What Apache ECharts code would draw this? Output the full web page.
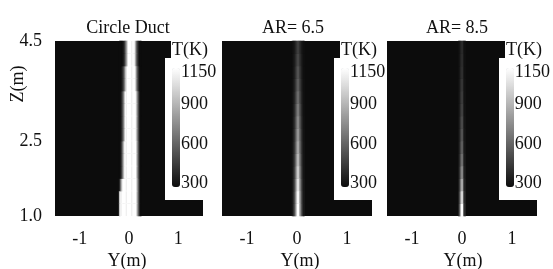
<!DOCTYPE html>
<html><head><meta charset="utf-8">
<script src="https://cdn.jsdelivr.net/npm/echarts@6/dist/echarts.min.js"></script>
<style>html,body{margin:0;padding:0;background:#fff}#c{width:553px;height:269px}</style>
</head><body><div id="c"></div>
<script>
// ---------- data ----------
const panelTitles = ['Circle Duct', 'AR= 6.5', 'AR= 8.5'];
const yTicks = [-1, 0, 1];          // Y(m) tick labels
const zTicks = [1.0, 2.5, 4.5];     // Z(m) tick labels
const tTicks = [300, 600, 900, 1150]; // colour-bar labels, T(K)
const tMin = 300, tMax = 1150;      // background temperature / colour-bar max
const yRange = [-1.5, 1.5];         // Y(m) extent of each panel
const zRange = [1.0, 4.5];          // Z(m) extent of each panel
const cellY = 0.025;                // width of a heat-map cell in Y(m)
const cellZ = 0.25;                 // height of a heat-map cell in Z(m)

// Y(m) cell centres of the hot columns in each panel
const circleY = [-0.1875,-0.1625,-0.1375,-0.1125,-0.0875,-0.0625,-0.0375,-0.0125,0.0125,0.0375,0.0625,0.0875,0.1125,0.1375,0.1625,0.1875,0.2125,0.2375];
const ar65Y  = [-0.0875,-0.0625,-0.0375,-0.0125,0.0125,0.0375,0.0625,0.0875,0.1125,0.1375];
const ar85Y  = [-0.0625,-0.0375,-0.0125,0.0125,0.0375,0.0625];

// T(K) of those columns, one row per Z cell, bottom (Z=1.0) first
const circleT = [
 [950,1150,1150,1150,1150,1150,1150,1150,1150,1150,1150,1150,1150,1150,1050,700,420,300],
 [950,1150,1150,1150,1150,1150,1150,1150,1150,1150,1150,1150,1150,1150,1050,700,420,300],
 [400,700,1050,1150,1150,1150,1150,1150,1150,1150,1150,1150,1150,1150,1050,700,420,300],
 [300,350,550,850,1100,1150,1150,1150,1150,1150,1150,1150,1150,1150,1000,650,400,300],
 [300,350,550,850,1100,1150,1150,1150,1150,1150,1150,1150,1150,1150,1000,650,400,300],
 [300,350,550,850,1100,1150,1150,1150,1150,1150,1150,1150,1150,1150,1000,650,400,300],
 [300,320,450,650,950,1150,1150,1150,1150,1150,1150,1150,1150,1120,950,620,380,300],
 [300,320,450,650,950,1150,1150,1150,1150,1150,1150,1150,1150,1120,950,620,380,300],
 [300,320,450,650,950,1150,1150,1150,1150,1150,1150,1150,1150,1120,950,620,380,300],
 [300,320,450,650,950,1150,1150,1150,1150,1150,1150,1150,1150,1120,950,620,380,300],
 [300,300,360,480,700,950,1150,1150,1150,1150,1150,1150,1150,1000,750,480,330,300],
 [300,300,360,480,700,950,1150,1150,1150,1150,1150,1150,1150,1000,750,480,330,300],
 [300,300,300,330,450,650,900,1150,1150,1150,1150,1150,1100,850,600,400,300,300],
 [300,300,300,330,450,650,900,1150,1150,1150,1150,1150,1100,850,600,400,300,300]
];
const ar65T = [
 [343,428,598,895,1150,1150,895,598,428,343],
 [341,423,587,874,1120,1120,874,587,423,341],
 [337,411,559,818,1040,1040,818,559,411,337],
 [333,399,531,762,960,960,762,531,399,333],
 [330,389,507,713,890,890,713,507,389,330],
 [327,380,486,671,830,830,671,486,380,327],
 [324,372,468,636,780,780,636,468,372,324],
 [322,365,451,601,730,730,601,451,365,322],
 [319,357,433,566,680,680,566,433,357,319],
 [317,350,416,531,630,630,531,416,350,317],
 [314,342,398,496,580,580,496,398,342,314],
 [312,336,384,468,540,540,468,384,336,312],
 [310,330,370,440,500,500,440,370,330,310],
 [309,326,360,419,470,470,419,360,326,309]
];
const ar85T = [
 [385,640,1150,1150,640,385],
 [370,580,1000,1000,580,370],
 [354,516,840,840,516,354],
 [342,468,720,720,468,342],
 [334,436,640,640,436,334],
 [328,412,580,580,412,328],
 [324,396,540,540,396,324],
 [321,384,510,510,384,321],
 [318,372,480,480,372,318],
 [316,364,460,460,364,316],
 [314,356,440,440,356,314],
 [312,348,420,420,348,312],
 [311,344,410,410,344,311],
 [310,340,400,400,340,310]
];

// ---------- layout (pixels) ----------
const layout = [
  {left: 55,  width: 148, titleX: 128, nameX: 127},
  {left: 222, width: 150, titleX: 293, nameX: 300},
  {left: 387, width: 150, titleX: 457, nameX: 463}
];
const plotTop = 41, plotH = 175;
const FONT = 'Liberation Serif';
const FS = 18;
const TXT = '#111';
const bgColor = '#0c0c0c';

const panels = [
  {y: circleY, t: circleT},
  {y: ar65Y, t: ar65T},
  {y: ar85Y, t: ar85T}
];

const nCols = Math.round((yRange[1] - yRange[0]) / cellY);
const nRows = Math.round((zRange[1] - zRange[0]) / cellZ);
const colCats = Array.from({length: nCols}, (_, i) => i);
const rowCats = Array.from({length: nRows}, (_, i) => i);

const grid = [], xAxis = [], yAxis = [], series = [], visualMap = [], graphic = [];
const txt = (text, x, y, align, extra) => Object.assign({type: 'text', z: 7, x, y,
  style: {text, font: FS + 'px ' + FONT, fill: TXT, textAlign: align || 'center', textVerticalAlign: 'middle'}}, extra || {});

panels.forEach((p, i) => {
  const L = layout[i];
  const right = L.left + L.width;
  const gi = grid.length;
  grid.push({left: L.left, top: plotTop, width: L.width, height: plotH, show: true,
    backgroundColor: bgColor, borderWidth: 0, containLabel: false});
  const xc = xAxis.length;
  xAxis.push({type: 'category', gridIndex: gi, position: 'top', data: colCats, show: false});
  xAxis.push({type: 'value', gridIndex: gi, position: 'bottom', min: yRange[0], max: yRange[1], interval: 0.5,
    axisLine: {show: false}, axisTick: {show: false}, splitLine: {show: false},
    axisLabel: {margin: 14, fontFamily: FONT, fontSize: FS, color: TXT,
      formatter: v => yTicks.includes(v) ? String(v) : ''}});
  const yc = yAxis.length;
  yAxis.push({type: 'category', gridIndex: gi, position: 'right', data: rowCats, show: false});
  if (i === 0) {
    yAxis.push({type: 'value', gridIndex: gi, position: 'left', min: zRange[0], max: zRange[1], interval: 0.5,
      axisLine: {show: false}, axisTick: {show: false}, splitLine: {show: false},
      axisLabel: {margin: 13, fontFamily: FONT, fontSize: FS, color: TXT,
        formatter: v => zTicks.includes(v) ? v.toFixed(1) : ''}});
  }
  const data = [];
  p.t.forEach((row, r) => {
    row.forEach((T, j) => {
      const k = Math.round((p.y[j] - yRange[0]) / cellY - 0.5);
      data.push([k, r, T]);
    });
  });
  const si = series.length;
  series.push({type: 'heatmap', xAxisIndex: xc, yAxisIndex: yc, data: data, z: 2,
    itemStyle: {borderWidth: 0}, emphasis: {disabled: true}, progressive: 0});

  // colour bar
  visualMap.push({type: 'continuous', min: tMin, max: tMax, seriesIndex: si, show: true,
    calculable: false, hoverLink: false, left: right - 31, top: 68, itemWidth: 8, itemHeight: 119,
    padding: 0, z: 6, inRange: {color: [bgColor, '#ffffff']}});

  // white legend box over the upper right of the plot
  graphic.push({type: 'rect', z: 4, shape: {x: right - 38, y: 58, width: 38, height: 142}, style: {fill: '#fff'}});
  graphic.push({type: 'rect', z: 4, shape: {x: right - 32, y: plotTop, width: 32, height: 18}, style: {fill: '#fff'}});
  graphic.push(txt('T(K)', right - 31, 50, 'left'));
  graphic.push(txt(panelTitles[i], L.titleX, 28));
  graphic.push(txt('Y(m)', L.nameX, 261));
});

// colour-bar label axes
panels.forEach((p, i) => {
  const L = layout[i];
  const right = L.left + L.width;
  const gi = grid.length;
  grid.push({left: right - 24, top: 72, width: 1, height: 111, z: 6});
  xAxis.push({type: 'category', gridIndex: gi, data: ['c'], show: false});
  yAxis.push({type: 'value', gridIndex: gi, position: 'right', min: tMin, max: tMax, interval: 50, z: 8,
    axisLine: {show: false}, axisTick: {show: false}, splitLine: {show: false},
    axisLabel: {margin: 1, fontFamily: FONT, fontSize: FS, color: TXT, showMaxLabel: true, showMinLabel: true,
      formatter: v => tTicks.includes(v) ? String(v) : ''}});
});

graphic.push(txt('Z(m)', 18, 84, 'center', {rotation: Math.PI / 2}));

const chart = echarts.init(document.getElementById('c'), null, {renderer: 'canvas'});
chart.setOption({
  animation: false,
  backgroundColor: '#fff',
  grid, xAxis, yAxis, series, visualMap, graphic
});
</script>
</body></html>
